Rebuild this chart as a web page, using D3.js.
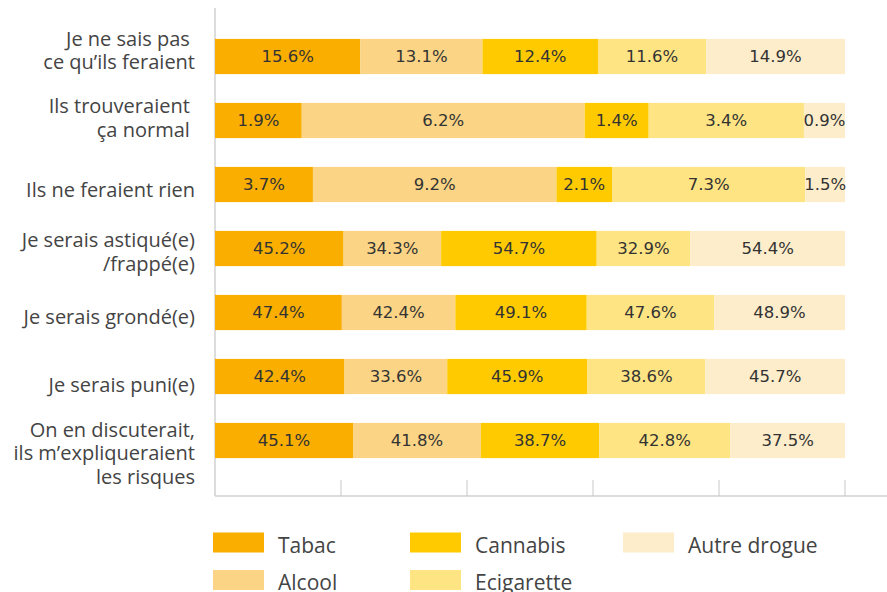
<!DOCTYPE html>
<html>
<head>
<meta charset="utf-8">
<script src="https://cdn.jsdelivr.net/npm/d3@7"></script>
<style>
  body { margin: 0; background: #fff; }
  svg { display: block; }
</style>
</head>
<body>
<div id="chart"></div>
<script>
// categories (each label split into lines)
var categories = [
  ["Je ne sais pas\u00a0", "ce qu\u2019ils feraient"],
  ["Ils trouveraient\u00a0", "ça normal\u00a0"],
  ["Ils ne feraient rien"],
  ["Je serais astiqué(e)", "/frappé(e)"],
  ["Je serais grondé(e)"],
  ["Je serais puni(e)"],
  ["On en discuterait,", "ils m\u2019expliqueraient", "les risques"]
];
var series = ["Tabac", "Alcool", "Cannabis", "Ecigarette", "Autre drogue"];
var colors = ["#f9ae00", "#fbd585", "#ffcb00", "#fee483", "#fdedcb"];

var tabac      = [15.6, 1.9, 3.7, 45.2, 47.4, 42.4, 45.1];
var alcool     = [13.1, 6.2, 9.2, 34.3, 42.4, 33.6, 41.8];
var cannabis   = [12.4, 1.4, 2.1, 54.7, 49.1, 45.9, 38.7];
var ecigarette = [11.6, 3.4, 7.3, 32.9, 47.6, 38.6, 42.8];
var autre      = [14.9, 0.9, 1.5, 54.4, 48.9, 45.7, 37.5];
var values = [tabac, alcool, cannabis, ecigarette, autre];

var xTicks = [0, 0.2, 0.4, 0.6, 0.8, 1];

var width = 887, height = 592;
var plotL = 215, plotR = 845, plotT = 24.5, plotB = 472.5;

// first-line baseline of each category label, relative to bar centre
var labelShift = [-10.8, -7.2, 12.8, -1.2, 11.8, 15.2, -3.8];
var lineH = 23.5;

var svg = d3.select("#chart").append("svg")
  .attr("width", width)
  .attr("height", height);

var x = d3.scaleLinear().domain([0, 1]).range([plotL, plotR]);
var y = d3.scaleBand()
  .domain(d3.range(categories.length))
  .range([plotT, plotB])
  .paddingInner(0.45)
  .paddingOuter(0.225);

// build table: one row per category, normalised to 100%
var rows = categories.map(function(c, i) {
  var total = d3.sum(values, function(v) { return v[i]; });
  var r = { idx: i };
  series.forEach(function(s, j) { r[s] = values[j][i] / total; r[s + "_raw"] = values[j][i]; });
  return r;
});
var stack = d3.stack().keys(series)(rows);

// axes lines
svg.append("line")
  .attr("x1", plotL).attr("x2", plotL)
  .attr("y1", 8).attr("y2", 496)
  .attr("stroke", "#d0d0d0").attr("stroke-width", 1.5);
svg.append("line")
  .attr("x1", plotL).attr("x2", width)
  .attr("y1", 496).attr("y2", 496)
  .attr("stroke", "#d0d0d0").attr("stroke-width", 1.5);
svg.selectAll(".tick")
  .data(xTicks.slice(1))
  .enter().append("line")
    .attr("x1", function(d) { return x(d); })
    .attr("x2", function(d) { return x(d); })
    .attr("y1", 480).attr("y2", 496)
    .attr("stroke", "#c8c8c8").attr("stroke-width", 1);

// bars
var layers = svg.selectAll(".layer")
  .data(stack)
  .enter().append("g")
    .attr("fill", function(d, i) { return colors[i]; });

layers.selectAll("rect")
  .data(function(d) { return d; })
  .enter().append("rect")
    .attr("x", function(d) { return x(d[0]); })
    .attr("y", function(d) { return y(d.data.idx); })
    .attr("width", function(d) { return x(d[1]) - x(d[0]); })
    .attr("height", y.bandwidth());

layers.each(function(layer) {
  d3.select(this).selectAll("text")
    .data(layer)
    .enter().append("text")
      .attr("x", function(d) { return (x(d[0]) + x(d[1])) / 2; })
      .attr("y", function(d) { return y(d.data.idx) + y.bandwidth() / 2; })
      .attr("dy", "0.35em")
      .attr("text-anchor", "middle")
      .attr("fill", "#333")
      .style("font-family", "'DejaVu Sans', sans-serif")
      .style("font-size", "16.5px")
      .text(function(d) { return d.data[layer.key + "_raw"].toFixed(1) + "%"; });
});

// category labels
categories.forEach(function(lines, i) {
  var cy = y(i) + y.bandwidth() / 2;
  var t = svg.append("text")
    .attr("text-anchor", "end")
    .attr("fill", "#444")
    .style("font-family", "'Open Sans', 'Noto Sans', sans-serif")
    .style("font-size", "20px");
  lines.forEach(function(l, k) {
    t.append("tspan")
      .attr("x", 195)
      .attr("y", cy + labelShift[i] + k * lineH)
      .text(l);
  });
});

// legend
var legendPos = [[213, 532.5], [213, 570], [410, 532.5], [410, 570], [623, 532.5]];
var legend = svg.selectAll(".legend")
  .data(series)
  .enter().append("g")
    .attr("transform", function(d, i) { return "translate(" + legendPos[i][0] + "," + legendPos[i][1] + ")"; });
legend.append("rect")
  .attr("width", 51).attr("height", 20)
  .attr("fill", function(d, i) { return colors[i]; });
legend.append("text")
  .attr("x", 65).attr("y", 20)
  .attr("fill", "#444")
  .style("font-family", "'Open Sans', 'Noto Sans', sans-serif")
  .style("font-size", "21px")
  .text(function(d) { return d; });
</script>
</body>
</html>
